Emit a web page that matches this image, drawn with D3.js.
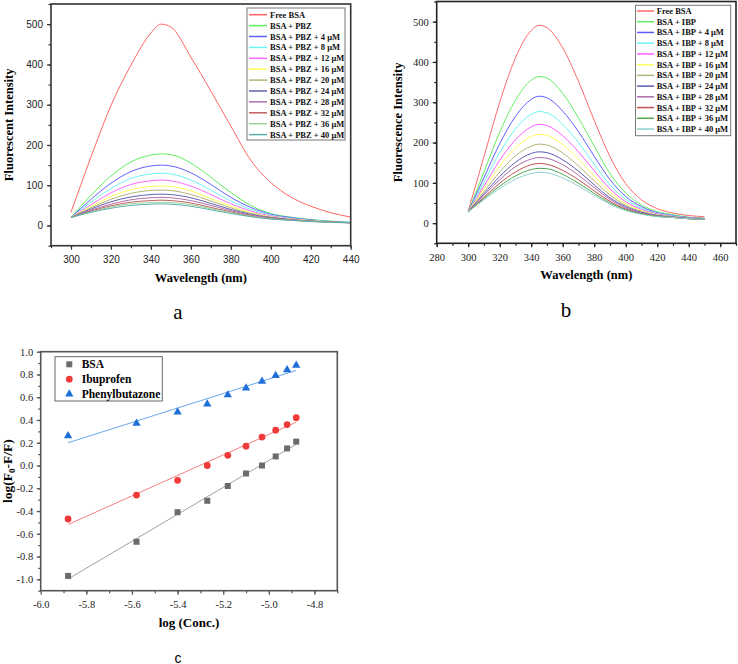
<!DOCTYPE html>
<html>
  <head>
    <meta charset="UTF-8">
    <style>
      body {
        margin: 0;
        background: #fff;
      }

      svg {
        display: block;
      }
    </style>
    <script type="text/javascript" src="https://cdn.jsdelivr.net/npm/d3@7"></script>
  </head>

  <body>
    <svg id="Figure" width="738" height="664"></svg>

    <script type="text/javascript">
      // ---- panel a : BSA + phenylbutazone spectra
      let wavelengthA = [300, 310, 320, 330, 340, 345, 350, 360, 370, 380, 390, 400, 410, 420, 430, 440];
      let labelsA = ['Free BSA', 'BSA + PBZ', 'BSA + PBZ + 4 μM', 'BSA + PBZ + 8 μM', 'BSA + PBZ + 12 μM',
        'BSA + PBZ + 16 μM', 'BSA + PBZ + 20 μM', 'BSA + PBZ + 24 μM', 'BSA + PBZ + 28 μM',
        'BSA + PBZ + 32 μM', 'BSA + PBZ + 36 μM', 'BSA + PBZ + 40 μM'];
      let intensityA = [
        [33, 170, 298, 398, 478, 500, 493, 418, 334, 247, 162, 107, 71, 48, 32, 21],
        [20, 75, 123, 158, 175, 178, 176, 155, 120, 82, 50, 30, 21, 15, 11, 8],
        [20, 65, 105, 134, 148, 150, 148, 131, 102, 70, 45, 28, 20, 14, 10, 8],
        [20, 58, 92, 117, 128, 130, 128, 113, 88, 61, 40, 26, 18, 13, 10, 8],
        [20, 52, 81, 102, 111, 113, 111, 98, 77, 54, 36, 24, 17, 12, 9, 7],
        [20, 47, 72, 89, 97, 98, 97, 86, 67, 48, 32, 22, 16, 12, 9, 7],
        [20, 44, 65, 80, 87, 88, 87, 77, 61, 44, 30, 21, 15, 11, 9, 7],
        [20, 41, 59, 71, 77, 78, 77, 69, 55, 40, 28, 20, 15, 11, 9, 7],
        [20, 38, 53, 64, 69, 70, 69, 62, 50, 37, 26, 19, 14, 11, 9, 7],
        [20, 36, 49, 58, 62, 63, 62, 56, 45, 34, 24, 18, 14, 11, 8, 7],
        [20, 34, 46, 54, 57, 58, 57, 52, 42, 32, 23, 17, 13, 10, 8, 7],
        [20, 33, 43, 50, 53, 54, 53, 48, 39, 30, 22, 16, 13, 10, 8, 7]
      ];
      let xTicksA = [300, 320, 340, 360, 380, 400, 420, 440];
      let yTicksA = [0, 100, 200, 300, 400, 500];

      // ---- panel b : BSA + ibuprofen spectra
      let wavelengthB = [300, 310, 320, 330, 340, 345, 350, 360, 370, 380, 390, 400, 410, 420, 430, 440, 450];
      let labelsB = ['Free BSA', 'BSA + IBP', 'BSA + IBP + 4 μM', 'BSA + IBP + 8 μM', 'BSA + IBP + 12 μM',
        'BSA + IBP + 16 μM', 'BSA + IBP + 20 μM', 'BSA + IBP + 24 μM', 'BSA + IBP + 28 μM',
        'BSA + IBP + 32 μM', 'BSA + IBP + 36 μM', 'BSA + IBP + 40 μM'];
      let intensityB = [
        [30, 165, 300, 410, 478, 491, 485, 435, 352, 255, 165, 98, 58, 36, 25, 19, 16],
        [28, 127, 226, 305, 355, 364, 360, 322, 261, 191, 123, 75, 45, 29, 21, 15, 12],
        [28, 113, 197, 265, 307, 315, 311, 278, 227, 166, 108, 66, 41, 26, 19, 14, 12],
        [28, 102, 175, 234, 270, 277, 274, 245, 200, 146, 95, 59, 37, 24, 18, 13, 11],
        [28, 92, 156, 207, 239, 245, 242, 217, 177, 130, 85, 53, 34, 23, 17, 13, 11],
        [28, 85, 141, 187, 215, 220, 218, 195, 159, 117, 77, 48, 31, 21, 16, 12, 11],
        [28, 78, 127, 167, 191, 196, 194, 174, 142, 105, 70, 44, 29, 20, 16, 12, 10],
        [28, 73, 116, 151, 173, 177, 175, 157, 129, 95, 63, 41, 27, 19, 15, 12, 10],
        [28, 69, 108, 140, 159, 163, 161, 145, 119, 88, 59, 38, 25, 18, 15, 11, 10],
        [28, 64, 99, 127, 145, 148, 146, 131, 108, 80, 54, 35, 24, 17, 14, 11, 10],
        [28, 61, 92, 117, 133, 136, 135, 121, 99, 74, 50, 33, 23, 17, 14, 11, 10],
        [28, 58, 86, 109, 123, 126, 125, 112, 92, 69, 47, 31, 22, 16, 14, 11, 10]
      ];
      let xTicksB = [280, 300, 320, 340, 360, 380, 400, 420, 440, 460];
      let yTicksB = [0, 100, 200, 300, 400, 500];

      // ---- panel c : double log plot
      let logConc = [-5.88, -5.58, -5.40, -5.27, -5.18, -5.10, -5.03, -4.97, -4.92, -4.88];
      let bsaLog = [-0.97, -0.67, -0.41, -0.31, -0.18, -0.07, 0.0, 0.08, 0.15, 0.21];
      let ibuprofenLog = [-0.47, -0.26, -0.13, 0.0, 0.09, 0.17, 0.25, 0.31, 0.36, 0.42];
      let phenylLog = [0.26, 0.37, 0.47, 0.54, 0.62, 0.68, 0.74, 0.79, 0.84, 0.88];
      let xTicksC = [-6.0, -5.8, -5.6, -5.4, -5.2, -5.0, -4.8];
      let yTicksC = [-1.0, -0.8, -0.6, -0.4, -0.2, 0.0, 0.2, 0.4, 0.6, 0.8, 1.0];

      let coloursA = ['#ff6464', '#5fef5f', '#6262ff', '#6ff5f5', '#ff6cff', '#ffff55', '#b4b478',
        '#6262b0', '#b070b0', '#c26060', '#99d699', '#5eadad'];
      let coloursB = ['#ff6a6a', '#62ee62', '#5c5cff', '#6cf4f4', '#ff5cff', '#ffff5a', '#b4b47c',
        '#5a5ab4', '#aa6aaa', '#c05050', '#4ea64e', '#8fd2d2'];

      const SERIF = '"Liberation Serif", "Times New Roman", Times, serif';
      const SANS = '"Liberation Sans", Arial, Helvetica, sans-serif';

      let svg = d3.select('#Figure');

      function getConfig(box, xDomain, yDomain) {
        let x = d3.scaleLinear().domain(xDomain).range([box.left, box.right]);
        let y = d3.scaleLinear().domain(yDomain).range([box.bottom, box.top]);
        let container = svg.append('g');
        return {box, x, y, container};
      }

      function drawAxes(config, opts) {
        let {container, x, y, box} = config;

        let axes = [
          {axis: d3.axisBottom(x).tickValues(opts.xTicks).tickFormat(opts.xFormat).tickSize(4).tickPadding(6), at: `translate(0,${box.bottom})`},
          {axis: d3.axisBottom(x).tickValues(opts.xMinor).tickFormat('').tickSize(2.5), at: `translate(0,${box.bottom})`},
          {axis: d3.axisLeft(y).tickValues(opts.yTicks).tickFormat(opts.yFormat).tickSize(4).tickPadding(opts.yPad), at: `translate(${box.left},0)`},
          {axis: d3.axisLeft(y).tickValues(opts.yMinor).tickFormat('').tickSize(2.5), at: `translate(${box.left},0)`}
        ];

        axes.forEach(a => {
          let g = container.append('g')
            .attr('transform', a.at)
            .call(a.axis)
            .attr('font-family', opts.tickFont)
            .attr('font-size', opts.tickSize);
          g.select('.domain').remove();
          g.selectAll('line').attr('stroke', opts.stroke).attr('stroke-width', 1.2);
          g.selectAll('text')
            .style('font-family', opts.tickFont)
            .attr('fill', '#222');
        });

        container.append('rect')
          .attr('x', box.left)
          .attr('y', box.top)
          .attr('width', box.right - box.left)
          .attr('height', box.bottom - box.top)
          .attr('fill', 'none')
          .attr('stroke', opts.stroke)
          .attr('stroke-width', 1.6);
      }

      function drawTitles(config, xTitle, yTitle, yTitleX, xTitleY) {
        let {container, box} = config;
        container.append('text')
          .style('font-family', SERIF)
          .attr('x', (box.left + box.right) / 2)
          .attr('y', xTitleY)
          .attr('text-anchor', 'middle')
          .attr('font-size', 12.5)
          .attr('font-weight', 'bold')
          .text(xTitle);

        container.append('text')
          .style('font-family', SERIF)
          .attr('transform', `translate(${yTitleX},${(box.top + box.bottom) / 2}) rotate(-90)`)
          .attr('text-anchor', 'middle')
          .attr('font-size', 12.5)
          .attr('font-weight', 'bold')
          .text(yTitle);
      }

      function drawSpectra(config, wavelengths, series, colours) {
        let {container, x, y} = config;
        let line = d3.line()
          .x(d => x(d[0]))
          .y(d => y(d[1]))
          .curve(d3.curveMonotoneX);

        container.append('g')
          .selectAll('path')
          .data(series)
          .enter()
          .append('path')
          .attr('d', s => line(s.map((v, i) => [wavelengths[i], v])))
          .attr('fill', 'none')
          .attr('stroke', (s, i) => colours[i])
          .attr('stroke-width', 1);
      }

      function drawSpectraLegend(container, labels, colours, lg) {
        container.append('rect')
          .attr('x', lg.left)
          .attr('y', lg.top)
          .attr('width', lg.right - lg.left)
          .attr('height', lg.bottom - lg.top)
          .attr('fill', '#fff')
          .attr('stroke', '#777')
          .attr('stroke-width', 1);

        let rows = container.append('g')
          .selectAll('g')
          .data(labels)
          .enter()
          .append('g')
          .attr('transform', (d, i) => `translate(0,${lg.first + i * lg.step})`);

        rows.append('line')
          .attr('x1', lg.lineFrom)
          .attr('x2', lg.lineTo)
          .attr('stroke', (d, i) => colours[i])
          .attr('stroke-width', 1.5);

        rows.append('text')
          .style('font-family', SERIF)
          .attr('x', lg.textX)
          .attr('y', 3)
          .attr('font-size', 8.5)
          .attr('font-weight', 'bold')
          .attr('fill', '#111')
          .text(d => d);
      }

      function drawPanelA() {
        let config = getConfig({left: 51, right: 350.7, top: 4, bottom: 245.7}, [290, 440], [-50, 550]);
        drawSpectra(config, wavelengthA, intensityA, coloursA);
        drawAxes(config, {
          xTicks: xTicksA, xMinor: d3.range(290, 441, 10), xFormat: d3.format('d'),
          yTicks: yTicksA, yMinor: d3.range(-50, 551, 50), yFormat: d3.format('d'),
          yPad: 4, stroke: '#333', tickFont: SANS, tickSize: 10
        });
        drawTitles(config, 'Wavelength (nm)', 'Fluorescent Intensity', 13, 282);
        drawSpectraLegend(config.container, labelsA, coloursA, {
          left: 247, right: 345, top: 8, bottom: 140,
          first: 14.7, step: 10.9, lineFrom: 249, lineTo: 267, textX: 270
        });
      }

      function drawPanelB() {
        let config = getConfig({left: 436.7, right: 736, top: 1.5, bottom: 243.3}, [280, 470], [-50, 550]);
        drawSpectra(config, wavelengthB, intensityB, coloursB);
        drawAxes(config, {
          xTicks: xTicksB, xMinor: d3.range(280, 471, 10), xFormat: d3.format('d'),
          yTicks: yTicksB, yMinor: d3.range(-50, 551, 50), yFormat: d3.format('d'),
          yPad: 4, stroke: '#222', tickFont: SERIF, tickSize: 10.5
        });
        drawTitles(config, 'Wavelength (nm)', 'Fluorescence Intensity', 402, 279);
        drawSpectraLegend(config.container, labelsB, coloursB, {
          left: 635.5, right: 730.7, top: 5.3, bottom: 135.7,
          first: 11, step: 10.73, lineFrom: 637, lineTo: 654, textX: 656.7
        });
      }

      function linearFit(xs, ys) {
        let mx = d3.mean(xs);
        let my = d3.mean(ys);
        let sxy = d3.sum(xs, (v, i) => (v - mx) * (ys[i] - my));
        let sxx = d3.sum(xs, v => (v - mx) * (v - mx));
        let slope = sxy / sxx;
        return v => my + slope * (v - mx);
      }

      function drawPanelC() {
        let config = getConfig({left: 40.7, right: 337.3, top: 351.7, bottom: 590.7}, [-6.0, -4.7], [-1.1, 1.0]);
        let {container, x, y} = config;
        let fmt = d => d.toFixed(1);

        drawAxes(config, {
          xTicks: xTicksC, xMinor: d3.range(-59, -46).map(v => v / 10), xFormat: fmt,
          yTicks: yTicksC, yMinor: d3.range(-11, 11).map(v => v / 10), yFormat: fmt,
          yPad: 3.5, stroke: '#555', tickFont: SERIF, tickSize: 10.5
        });

        let groups = [
          {name: 'BSA', values: bsaLog, colour: '#6b6b6b', fit: '#a0a0a0', symbol: d3.symbolSquare, size: 36},
          {name: 'Ibuprofen', values: ibuprofenLog, colour: '#f03a3a', fit: '#f57f7f', symbol: d3.symbolCircle, size: 36},
          {name: 'Phenylbutazone', values: phenylLog, colour: '#1f6fd8', fit: '#6aa8ea', symbol: d3.symbolTriangle, size: 30}
        ];

        groups.forEach(g => {
          let fit = linearFit(logConc, g.values);
          let ends = d3.extent(logConc);
          container.append('line')
            .attr('x1', x(ends[0]))
            .attr('y1', y(fit(ends[0])))
            .attr('x2', x(ends[1]))
            .attr('y2', y(fit(ends[1])))
            .attr('stroke', g.fit)
            .attr('stroke-width', 1);

          container.append('g')
            .selectAll('path')
            .data(g.values)
            .enter()
            .append('path')
            .attr('d', d3.symbol().type(g.symbol).size(g.size))
            .attr('transform', (d, i) => `translate(${x(logConc[i])},${y(d)})`)
            .attr('fill', g.colour);
        });

        // legend
        container.append('rect')
          .attr('x', 55)
          .attr('y', 356.7)
          .attr('width', 107.3)
          .attr('height', 44.3)
          .attr('fill', 'none')
          .attr('stroke', '#666')
          .attr('stroke-width', 1);

        let rows = container.append('g')
          .selectAll('g')
          .data(groups)
          .enter()
          .append('g')
          .attr('transform', (d, i) => `translate(69.3,${364.3 + i * 14.9})`);

        rows.append('path')
          .attr('d', g => d3.symbol().type(g.symbol).size(g.size)())
          .attr('fill', g => g.colour);

        rows.append('text')
          .style('font-family', SERIF)
          .attr('x', 12.4)
          .attr('y', 4)
          .attr('font-size', 11.5)
          .attr('font-weight', 'bold')
          .text(g => g.name);

        // titles
        container.append('text')
          .style('font-family', SERIF)
          .attr('x', (config.box.left + config.box.right) / 2)
          .attr('y', 627)
          .attr('text-anchor', 'middle')
          .attr('font-size', 13)
          .attr('font-weight', 'bold')
          .text('log (Conc.)');

        let yTitle = container.append('text')
          .style('font-family', SERIF)
          .attr('transform', `translate(12,${(config.box.top + config.box.bottom) / 2}) rotate(-90)`)
          .attr('text-anchor', 'middle')
          .attr('font-size', 13.5)
          .attr('font-weight', 'bold');
        yTitle.append('tspan').text('log(F');
        yTitle.append('tspan').attr('font-size', 9).attr('dy', 3).text('0');
        yTitle.append('tspan').attr('dy', -3).text('-F/F)');
      }

      function drawPanelLetters() {
        svg.append('text').style('font-family', SERIF).attr('x', 178).attr('y', 319)
          .attr('text-anchor', 'middle').attr('font-size', 21).text('a');
        svg.append('text').style('font-family', SERIF).attr('x', 566).attr('y', 317)
          .attr('text-anchor', 'middle').attr('font-size', 21).text('b');
        svg.append('text').style('font-family', SANS).attr('x', 178).attr('y', 662.5)
          .attr('text-anchor', 'middle').attr('font-size', 14).text('c');
      }

      drawPanelA();
      drawPanelB();
      drawPanelC();
      drawPanelLetters();
    </script>
  </body>
</html>
